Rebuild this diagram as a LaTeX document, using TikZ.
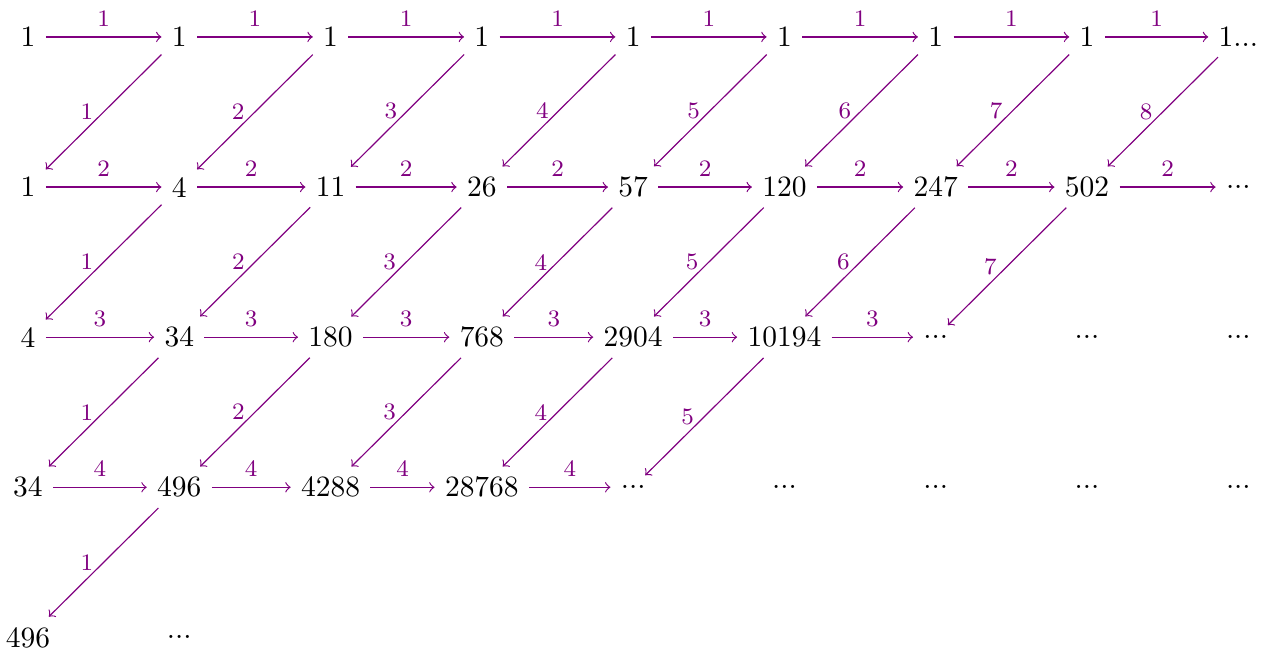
\documentclass[tikz,border=0pt]{standalone}
\usepackage{amsmath}
\definecolor{seqpurple}{RGB}{128,0,128}
\newcommand{\seqdots}{...}

\begin{document}
\begin{tikzpicture}[
  x=51.3pt, y=-50.9pt,
  num/.style={inner sep=3.33pt},
  link/.style={->, seqpurple},
  lab/.style={font=\footnotesize, text=seqpurple}
]
\useasboundingbox (-0.185,-0.246) rectangle (8.249,4.105);

% the rows of the table
\foreach \v [count=\c from 0] in {1,1,1,1,1,1,1,1,1\seqdots}
  \node[num] (v-0-\c) at (\c,0) {\v};
\foreach \v [count=\c from 0] in {1,4,11,26,57,120,247,502,\seqdots}
  \node[num] (v-1-\c) at (\c,1) {\v};
\foreach \v [count=\c from 0] in {4,34,180,768,2904,10194,\seqdots,\seqdots,\seqdots}
  \node[num] (v-2-\c) at (\c,2) {\v};
\foreach \v [count=\c from 0] in {34,496,4288,28768,\seqdots,\seqdots,\seqdots,\seqdots,\seqdots}
  \node[num] (v-3-\c) at (\c,3) {\v};
\foreach \v [count=\c from 0] in {496,\seqdots}
  \node[num] (v-4-\c) at (\c,4) {\v};

% horizontal steps, labelled by the row
\foreach \r/\n in {0/7,1/7,2/5,3/3} {
  \pgfmathtruncatemacro\lbl{\r+1}
  \foreach \c in {0,...,\n} {
    \pgfmathtruncatemacro\d{\c+1}
    \draw[link] (v-\r-\c) -- node[lab, above] {\lbl} (v-\r-\d);
  }
}

% diagonal steps down to the next row, labelled by the column
\foreach \r/\n in {0/7,1/6,2/4,3/0} {
  \pgfmathtruncatemacro\s{\r+1}
  \foreach \c in {0,...,\n} {
    \pgfmathtruncatemacro\d{\c+1}
    \draw[link] (v-\r-\d) -- node[lab, left] {\d} (v-\s-\c);
  }
}
\end{tikzpicture}
\end{document}
